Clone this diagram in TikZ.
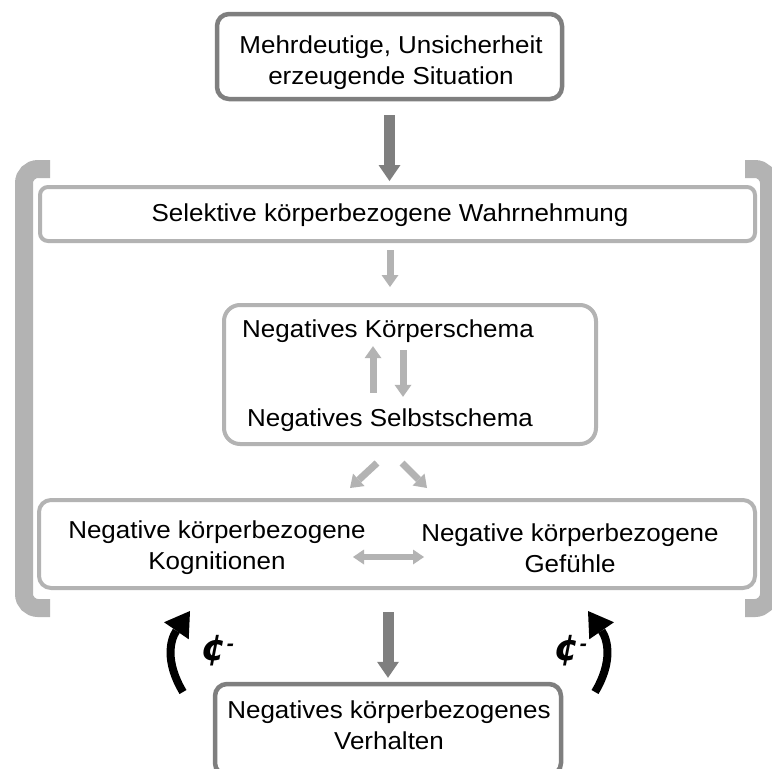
\documentclass[tikz,border=0pt]{standalone}
\usepackage{fontspec}
\setmainfont{Liberation Sans}[FakeStretch=1.06]
\newfontfamily\symfont{DejaVu Sans}
\usetikzlibrary{arrows.meta}
\definecolor{lgray}{HTML}{B3B3B3}
\definecolor{dgray}{HTML}{7F7F7F}
\begin{document}
\begin{tikzpicture}[x=1pt,y=-1pt,
  txt/.style={align=center, font=\fontsize{24.5}{31}\selectfont, inner sep=0pt},
  lbox/.style={draw=lgray, line width=4pt, fill=white, rounded corners=#1, inner sep=0pt},
  lbox/.default=10pt,
  dbox/.style={draw=dgray, line width=4.5pt, fill=white, rounded corners=#1, inner sep=0pt},
  dbox/.default=12pt,
  bracket/.style={draw=lgray, line width=18pt, rounded corners=14pt},
  darr/.style={draw=dgray, line width=11pt, -{Triangle[width=22pt,length=16pt,line width=0pt]}},
  larr/.style={draw=lgray, line width=7pt, -{Triangle[width=17pt,length=12pt,line width=0pt]}},
  ldarr/.style={draw=lgray, line width=6pt, {Triangle[width=15pt,length=11pt,line width=0pt]}-{Triangle[width=15pt,length=11pt,line width=0pt]}},
  barr/.style={draw=black, line width=8pt, -{Triangle[width=30pt,length=24pt,line width=0pt]}},
  sym/.style={font=\symfont\fontsize{36}{36}\selectfont\bfseries\itshape, inner sep=0pt}
]
\useasboundingbox (0,0) rectangle (772,769);
\clip (0,0) rectangle (772,769);

% brackets
\draw[bracket] (50,169) -- (24,169) -- (24,608) -- (50,608);
\draw[bracket] (745,169) -- (769,169) -- (769,608) -- (745,608);

% boxes
\node[dbox, minimum width=345pt, minimum height=85pt] (top) at (389.5,56.5) {};
\node[txt] (toptxt) at (391,63) {Mehrdeutige, Unsicherheit\\erzeugende Situation};

\node[lbox=8pt, minimum width=715pt, minimum height=54pt] (sel) at (397.5,214) {};
\node[txt] (seltxt) at (390,215) {Selektive körperbezogene Wahrnehmung};

\node[lbox=16pt, minimum width=372pt, minimum height=139pt] (schema) at (410,374.5) {};
\node[txt, minimum height=30pt] (kschema) at (388,331) {Negatives Körperschema};
\node[txt, minimum height=30pt] (sschema) at (390,420) {Negatives Selbstschema};

\node[lbox=12pt, minimum width=716pt, minimum height=88pt] (wide) at (397,544) {};
\node[txt] (kog) at (217,548) {Negative körperbezogene\\Kognitionen};
\node[txt] (gef) at (570,548) {Negative körperbezogene\\Gefühle};

\node[dbox, minimum width=346pt, minimum height=91pt] (bot) at (388,729.5) {};
\node[txt] (bottxt) at (389,725) {Negatives körperbezogenes\\Verhalten};

% arrows
\draw[darr, shorten <=14pt, shorten >=4pt] (top.south) -- (top.south |- sel.north);
\draw[larr, shorten <=7pt, shorten >=16pt] (seltxt |- sel.south) -- (seltxt |- schema.north);
\draw[larr, shorten <=12pt] ([xshift=-17pt]sschema.north) -- ([xshift=-15pt]kschema.south);
\draw[larr, shorten <=4pt, shorten >=8pt] ([xshift=15pt]kschema.south) -- ([xshift=13pt]sschema.north);
\draw[larr] ([xshift=-33pt,yshift=-17pt]schema.south) -- ([xshift=-47pt,yshift=10pt]wide.north);
\draw[larr] ([xshift=-8pt,yshift=-17pt]schema.south) -- ([xshift=30pt,yshift=10pt]wide.north);
\coordinate (dl) at (353,557);
\coordinate (dr) at (424,557);
\draw[ldarr] (dl) -- (dr);
\draw[darr, shorten <=22pt, shorten >=4pt] (wide.south -| bot.north) -- (bot.north);

% curved black arrows
\coordinate (la) at (183,692);
\coordinate (lb) at (190,611);
\coordinate (ra) at (595,692);
\coordinate (rb) at (588,611);
\draw[barr] (la) .. controls (165,662) and (170,640) .. (lb);
\draw[barr] (ra) .. controls (613,662) and (608,640) .. (rb);

\node[sym] (lsym) at (218,651) {¢\raisebox{10pt}{\fontsize{18}{18}\selectfont -}};
\node[sym] (rsym) at (571,651) {¢\raisebox{10pt}{\fontsize{18}{18}\selectfont -}};
\end{tikzpicture}
\end{document}
